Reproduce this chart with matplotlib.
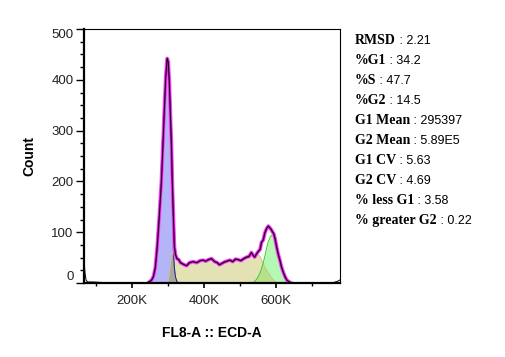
import numpy as np
import matplotlib
matplotlib.use('Agg')
import matplotlib.pyplot as plt
from matplotlib.ticker import MultipleLocator, FuncFormatter

fl8_k = [67, 70, 73, 78, 90, 120, 150, 200, 240, 250, 255, 260, 265, 270, 276,
         282, 286, 290, 294, 298, 301, 304, 307, 310, 312, 315, 318, 321, 325,
         330, 335, 340, 345, 352, 360, 370, 380, 390, 397, 405, 413, 421, 430,
         437, 443, 449, 456, 464, 472, 480, 488, 495, 503, 511, 519, 525, 532,
         536, 541, 546, 551, 556, 560, 565, 569, 574, 579, 584, 588, 591, 594,
         598, 602, 606, 611, 615, 620, 625, 630, 635, 640, 650, 700, 750, 760,
         770, 778]
contagem = [45, 18, 5, 2, 2, 1, 1, 1, 1, 3, 6, 13, 30, 68, 130,
            200, 268, 338, 405, 442, 435, 395, 330, 268, 205, 135, 72, 56, 48,
            46, 40, 38, 36, 34, 40, 42, 40, 44, 45, 43, 46, 48, 42,
            40, 36, 38, 41, 43, 45, 42, 47, 46, 44, 48, 51, 52, 60,
            55, 51, 57, 62, 66, 80, 85, 98, 107, 112, 108, 104, 100, 97,
            86, 71, 58, 45, 33, 22, 13, 6, 3, 1, 1, 1, 1, 1,
            3, 6]
g1 = [0, 0, 0, 0, 0, 0, 0, 0, 0, 0, 3, 10, 28, 65, 127,
      197, 265, 335, 402, 435, 430, 385, 315, 225, 165, 65, 30, 12, 3,
      0, 0, 0, 0, 0, 0, 0, 0, 0, 0, 0, 0, 0, 0,
      0, 0, 0, 0, 0, 0, 0, 0, 0, 0, 0, 0, 0, 0,
      0, 0, 0, 0, 0, 0, 0, 0, 0, 0, 0, 0, 0, 0,
      0, 0, 0, 0, 0, 0, 0, 0, 0, 0, 0, 0, 0, 0,
      0, 0]
fase_s = [0, 0, 0, 0, 0, 0, 0, 0, 0, 0, 0, 0, 0, 0, 0,
          0, 0, 0, 0, 0, 5, 20, 40, 55, 60, 62, 58, 52, 45,
          43, 38, 36, 34, 32, 38, 40, 38, 42, 43, 41, 44, 46, 40,
          38, 35, 36, 39, 41, 43, 40, 45, 44, 42, 46, 49, 50, 56,
          54, 52, 54, 55, 52, 46, 38, 32, 26, 20, 15, 11, 8, 6,
          3, 1, 0, 0, 0, 0, 0, 0, 0, 0, 0, 0, 0, 0,
          0, 0]
g2 = [0, 0, 0, 0, 0, 0, 0, 0, 0, 0, 0, 0, 0, 0, 0,
      0, 0, 0, 0, 0, 0, 0, 0, 0, 0, 0, 0, 0, 0,
      0, 0, 0, 0, 0, 0, 0, 0, 0, 0, 0, 0, 0, 0,
      0, 0, 0, 0, 0, 0, 0, 0, 0, 0, 0, 0, 0, 0,
      0, 3, 7, 13, 20, 28, 40, 52, 68, 82, 90, 94, 94, 92,
      84, 70, 57, 44, 32, 21, 12, 6, 2, 0, 0, 0, 0, 0,
      0, 0]

rotulos = ['RMSD', '%G1', '%S', '%G2', 'G1 Mean', 'G2 Mean', 'G1 CV', 'G2 CV',
           '% less G1', '% greater G2']
valores = ['2.21', '34.2', '47.7', '14.5', '295397', '5.89E5', '5.63', '4.69',
           '3.58', '0.22']

x = np.array(fl8_k)
y = np.array(contagem)
a = np.array(g1)
s = np.array(fase_s)
b = np.array(g2)

fig = plt.figure(figsize=(5.05, 3.57), dpi=100)
ax = fig.add_axes([84 / 505, 1 - 283 / 357, 256 / 505, 254 / 357])

# componentes do modelo
ax.fill_between(x, 0, s, color='#e4e2b4', lw=0)
ax.fill_between(x, 0, a, color='#b4b4f8', lw=0)
ax.fill_between(x, 0, np.minimum(a, s), color='#a8a8a0', lw=0)
ax.fill_between(x, 0, b, color='#b4f8b4', lw=0)
ax.fill_between(x, 0, np.minimum(s, b), color='#b8e08c', lw=0)
ax.plot(x, s, color='#c8c48a', lw=0.6)
ax.plot(x, a, color='#202080', lw=0.7)
ax.plot(x, b, color='#40c820', lw=0.7)

# modelo (magenta) e dados (preto)
m = (x >= 250) & (x <= 645)
ax.plot(x[m], y[m], color='#f070f0', lw=2.8, solid_joinstyle='round')
ax.plot(x[m], y[m], color='#e010e0', lw=1.8, solid_joinstyle='round')
ax.plot(x, y, color='black', lw=0.7)

ax.set_xlim(67, 778)
ax.set_ylim(0, 500)
ax.xaxis.set_major_locator(MultipleLocator(200))
ax.xaxis.set_minor_locator(MultipleLocator(100))
ax.yaxis.set_major_locator(MultipleLocator(100))
ax.yaxis.set_minor_locator(MultipleLocator(25))
ax.xaxis.set_major_formatter(FuncFormatter(lambda v, p: '%dK' % v))

fonte = 'Liberation Sans'
ax.tick_params(axis='x', which='major', direction='out', length=3.8, width=1.2, pad=4.5,
               labelsize=9.5, labelcolor='#222222')
ax.tick_params(axis='x', which='minor', direction='out', length=2.2, width=1.0)
ax.tick_params(axis='y', which='major', direction='out', length=5.5, width=1.0, pad=2.0,
               labelsize=9.5, labelcolor='#222222')
ax.tick_params(axis='y', which='minor', direction='out', length=2.8, width=1.0)
for lbl in ax.get_xticklabels() + ax.get_yticklabels():
    lbl.set_fontfamily(fonte)

for lado in ['left', 'bottom']:
    ax.spines[lado].set_linewidth(1.6)
for lado in ['top', 'right']:
    ax.spines[lado].set_linewidth(0.8)

ax.set_xlabel('FL8-A :: ECD-A', fontsize=10, fontweight='bold', family=fonte, labelpad=14)
ax.set_ylabel('Count', fontsize=10, fontweight='bold', family=fonte, labelpad=11)

fig.canvas.draw()
for lbl in ax.get_yticklabels():
    if lbl.get_text() == '500':
        lbl.set_va('top')
    if lbl.get_text() == '0':
        lbl.set_va('bottom')

# painel de estatisticas
renderer = fig.canvas.get_renderer()
for i, (rot, val) in enumerate(zip(rotulos, valores)):
    yb = 1 - (44 + 20 * i) / 357
    t = fig.text(355 / 505, yb, rot, fontsize=10, fontweight='bold',
                 family='Liberation Serif', va='baseline')
    bb = t.get_window_extent(renderer)
    fig.text(bb.x1 / fig.bbox.width, yb, ' : ' + val, fontsize=9,
             family=fonte, va='baseline')

fig.savefig('out.png', dpi=100)
